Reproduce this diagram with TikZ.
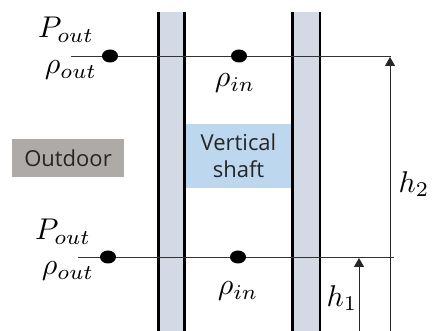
\documentclass[tikz,border=0pt]{standalone}
\usepackage{amsmath}
\usepackage{amssymb}
\usepackage{fontspec}
\setsansfont{Open Sans}
\usepackage{tikz}
\usetikzlibrary{arrows.meta,shapes.geometric}
\definecolor{shaftwall}{HTML}{D3DAE6}
\definecolor{shaftbox}{HTML}{BDD7EE}
\definecolor{outbox}{HTML}{AEAAA8}
\tikzset{
  wall/.style={black,line width=2.8pt},
  level/.style={black!80,line width=.9pt},
  dim/.style={-{Triangle[width=10pt,length=9pt]},black!85,line width=.8pt},
  probe/.style={ellipse,fill=black,inner sep=0pt,minimum width=16pt,minimum height=13pt},
  sym/.style={inner sep=0pt,scale=3},
  tag/.style={inner sep=0pt,align=center,text=black!85,font=\sffamily\fontsize{22}{27}\selectfont}
}

\begin{document}
\begin{tikzpicture}[x=1pt,y=-1pt]
 \useasboundingbox (0,0) rectangle (432,331);
 \coordinate (topL) at (71,56);
 \coordinate (topR) at (391,56);
 \coordinate (botL) at (78,257);
 \coordinate (botR) at (394,257);
 \coordinate (h2foot) at (390,331);
 \coordinate (h2head) at (390,57);
 \coordinate (h1foot) at (359,331);
 \coordinate (h1head) at (359,258);
 \coordinate (w1t) at (158.5,12);
 \coordinate (w1b) at (158.5,331);
 \coordinate (w2t) at (184.5,12);
 \coordinate (w2b) at (184.5,331);
 \coordinate (w3t) at (292.5,12);
 \coordinate (w3b) at (292.5,331);
 \coordinate (w4t) at (320,12);
 \coordinate (w4b) at (320,331);
% shaft walls
 \fill[shaftwall] (w1t) rectangle (w2b);
 \fill[shaftwall] (w3t) rectangle (w4b);
 \fill[shaftbox] (186,124) rectangle (291,188);
 \node[tag] (shaft) at (238.5,156) {Vertical\\shaft};
 \draw[wall] (w1t) -- (w1b);
 \draw[wall] (w2t) -- (w2b);
 \draw[wall] (w3t) -- (w3b);
 \draw[wall] (w4t) -- (w4b);
% levels
 \draw[level] (topL) -- (topR);
 \draw[level] (botL) -- (botR);
 \draw[dim] (h2foot) -- (h2head);
 \draw[dim] (h1foot) -- (h1head);
 \node[probe] (pt1) at (110,56) {};
 \node[probe] (pt2) at (239,56) {};
 \node[probe] (pt3) at (108,257) {};
 \node[probe] (pt4) at (238,257) {};
% outdoor
 \node[tag,fill=outbox,minimum width=112pt,minimum height=38pt] (outdoor) at (68,158) {Outdoor};
% labels
 \node[sym] (Ptop) at (66,30) {$P_{out}$};
 \node[sym] (rtop) at (71,70) {$\rho_{out}$};
 \node[sym] (itop) at (235,83) {$\rho_{in}$};
 \node[sym] (Pbot) at (63,232) {$P_{out}$};
 \node[sym] (rbot) at (68,271) {$\rho_{out}$};
 \node[sym] (ibot) at (238,291) {$\rho_{in}$};
 \node[sym] (h2) at (414,184) {$h_2$};
 \node[sym] (h1) at (342,298) {$h_1$};
\end{tikzpicture}
\end{document}
